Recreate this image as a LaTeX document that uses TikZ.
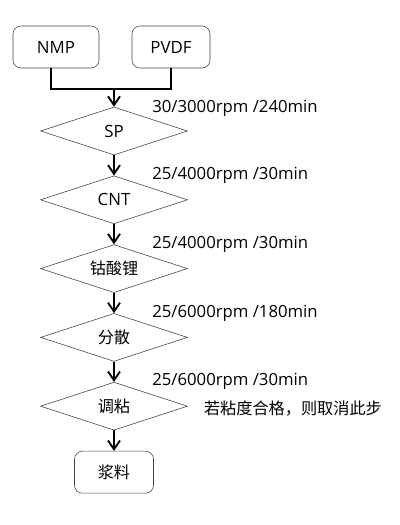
\documentclass[tikz,border=0pt]{standalone}
\usepackage{fontspec}
\setmainfont{Open Sans}
\newfontfamily\cjk{Noto Sans CJK SC}
\usetikzlibrary{positioning, arrows.meta, shapes.geometric}

\begin{document}
\begin{tikzpicture}[node distance=1.72cm, auto,
    box/.style={draw=black!75, rounded corners=0.2cm, minimum height=1.05cm, font=\fontsize{12}{14}\selectfont},
    dia/.style={draw=black!75, diamond, aspect=3, inner sep=0pt, minimum width=3.675cm, minimum height=1.2cm, font=\fontsize{12}{14}\selectfont},
    cond/.style={anchor=base west, inner sep=0pt, font=\fontsize{11.9}{14}\selectfont},
    flow/.style={-{Straight Barb[length=2.2mm,width=3mm]}, line width=1.3pt}]
    \useasboundingbox (0,0) rectangle (10,-13.125);
    \node[box, minimum width=2.15cm] (nmp) at (1.4,-1.175) {NMP};
    \node[box, minimum width=1.95cm] (pvdf) at (4.275,-1.175) {PVDF};
    \node[dia] (sp) at (2.85,-3.275) {SP};
    \node[dia, below of=sp] (cnt) {CNT};
    \node[dia, below of=cnt] (lco) {\cjk\fontsize{11.5}{14}\selectfont 钴酸锂};
    \node[dia, below of=lco] (disp) {\cjk\fontsize{11.5}{14}\selectfont 分散};
    \node[dia, below of=disp] (visc) {\cjk\fontsize{11.5}{14}\selectfont 调粘};
    \node[box, minimum width=1.975cm, below of=visc, node distance=1.65cm] (slurry) {\cjk\fontsize{11.5}{14}\selectfont 浆料};
    \coordinate[above of=sp, node distance=1.05cm] (join);

    % mixing conditions
    \node[cond] (sptxt) at ([xshift=0.95cm,yshift=-0.14cm]sp.north) {30/3000rpm /240min};
    \node[cond] (cnttxt) at ([xshift=0.95cm,yshift=-0.1cm]cnt.north) {25/4000rpm /30min};
    \node[cond] (lcotxt) at ([xshift=0.95cm,yshift=-0.1cm]lco.north) {25/4000rpm /30min};
    \node[cond] (disptxt) at ([xshift=0.95cm,yshift=-0.1cm]disp.north) {25/6000rpm /180min};
    \node[cond] (visctxt) at ([xshift=0.95cm,yshift=-0.1cm]visc.north) {25/6000rpm /30min};
    \node[cond, anchor=west, font=\cjk\fontsize{11.5}{14}\selectfont] (skip) at ([xshift=0.4cm,yshift=-0.05cm]visc.east) {若粘度合格，则取消此步};

    \draw[line width=1.3pt] ([xshift=-0.125cm]nmp.south) |- (join) -| (pvdf.south);
    \draw[flow] (join) -- (sp);
    \draw[flow] (sp) -- (cnt);
    \draw[flow] (cnt) -- (lco);
    \draw[flow] (lco) -- (disp);
    \draw[flow] (disp) -- (visc);
    \draw[flow] (visc) -- (slurry);
\end{tikzpicture}
\end{document}
